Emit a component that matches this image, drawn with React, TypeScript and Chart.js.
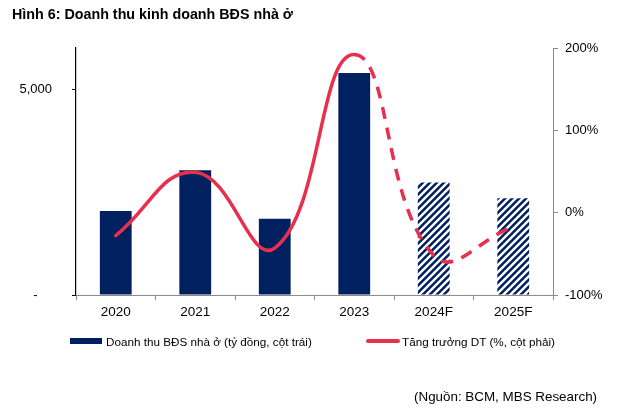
import React, { useEffect, useRef } from "react";
import { Chart, registerables } from "chart.js";

Chart.register(...registerables);

const categories = ["2020", "2021", "2022", "2023", "2024F", "2025F"];
const revenue = [2040, 3030, 1850, 5390, 2735, 2350];
const growth = [-28, 49, -43, 192, -52, -17];
const forecastFrom = 4;
const leftTicks = [0, 5000];
const rightTicks = [-100, 0, 100, 200];

const NAVY = "#002060";
const RED = "#E8304E";
const FONT = "'Liberation Sans', Arial, sans-serif";

function makeHatch(): CanvasPattern | string {
  const size = 7;
  const c = document.createElement("canvas");
  c.width = size;
  c.height = size;
  const g = c.getContext("2d");
  if (!g) return NAVY;
  g.fillStyle = NAVY;
  g.fillRect(0, 0, size, size);
  g.strokeStyle = "#ffffff";
  g.lineWidth = 2.4;
  g.beginPath();
  g.moveTo(-1, size + 1);
  g.lineTo(size + 1, -1);
  g.moveTo(-1, 1);
  g.lineTo(1, -1);
  g.moveTo(size - 1, size + 1);
  g.lineTo(size + 1, size - 1);
  g.stroke();
  const p = g.createPattern(c, "repeat");
  return p || NAVY;
}

export default function App() {
  const ref = useRef<HTMLCanvasElement | null>(null);

  useEffect(() => {
    if (!ref.current) return;
    const hatch = makeHatch();
    const chart = new Chart(ref.current, {
      type: "bar",
      data: {
        labels: categories,
        datasets: [
          {
            type: "bar",
            label: "Doanh thu BĐS nhà ở (tỷ đồng, cột trái)",
            data: revenue,
            backgroundColor: (ctx: any) => (ctx.dataIndex >= forecastFrom ? hatch : NAVY),
            borderWidth: 0,
            yAxisID: "y",
            barPercentage: 0.4,
            categoryPercentage: 1,
            order: 2,
          },
          {
            type: "line",
            label: "Tăng trưởng DT (%, cột phải)",
            data: growth,
            borderColor: RED,
            backgroundColor: RED,
            borderWidth: 3.5,
            borderCapStyle: "round",
            pointRadius: 0,
            tension: 0.45,
            yAxisID: "y1",
            order: 1,
            segment: {
              borderDash: (ctx: any) => (ctx.p0DataIndex >= 3 ? [12, 9] : undefined),
              borderCapStyle: (ctx: any) => (ctx.p0DataIndex >= 3 ? "butt" : "round"),
            },
          } as any,
        ],
      },
      options: {
        animation: false,
        responsive: false,
        maintainAspectRatio: false,
        layout: { padding: { top: 48, left: 0, right: 0, bottom: 90 } },
        plugins: {
          legend: { display: false },
          tooltip: { enabled: false },
          title: { display: false },
        },
        scales: {
          x: {
            offset: true,
            grid: {
              display: true,
              drawOnChartArea: false,
              drawTicks: true,
              tickLength: 5,
              color: "#8c8c8c",
              offset: true,
            },
            border: { display: true, color: "#8c8c8c", width: 1 },
            ticks: { color: "#000", font: { family: FONT, size: 13.5 }, padding: 4 },
            afterFit: (s: any) => {
              s.height = 30;
            },
          },
          y: {
            position: "left",
            min: 0,
            max: 6000,
            afterBuildTicks: (s: any) => {
              s.ticks = leftTicks.map((v) => ({ value: v }));
            },
            grid: {
              display: true,
              drawOnChartArea: false,
              drawTicks: true,
              tickLength: 4,
              color: "#000",
            },
            border: { display: true, color: "#000", width: 1.2 },
            ticks: {
              color: "#000",
              font: { family: FONT, size: 13 },
              padding: 20,
              callback: (v: any) => (Number(v) === 0 ? "-    " : Number(v).toLocaleString("en-US")),
            },
            afterFit: (s: any) => {
              s.width = 76;
            },
          },
          y1: {
            position: "right",
            min: -100,
            max: 200,
            afterBuildTicks: (s: any) => {
              s.ticks = rightTicks.map((v) => ({ value: v }));
            },
            grid: {
              display: true,
              drawOnChartArea: false,
              drawTicks: true,
              tickLength: 5,
              color: "#8c8c8c",
            },
            border: { display: true, color: "#8c8c8c", width: 1 },
            ticks: {
              color: "#000",
              font: { family: FONT, size: 13 },
              padding: 7,
              callback: (v: any) => v + "%",
            },
            afterFit: (s: any) => {
              s.width = 87;
            },
          },
        },
      } as any,
    });
    return () => chart.destroy();
  }, []);

  return (
    <div
      style={{
        position: "fixed",
        left: 0,
        top: 0,
        width: 640,
        height: 415,
        background: "#fff",
        fontFamily: FONT,
        color: "#000",
      }}
    >
      <canvas ref={ref} width={640} height={415} style={{ position: "absolute", left: 0, top: 0 }} />
      <div
        style={{
          position: "absolute",
          left: 12,
          top: 6,
          fontWeight: "bold",
          fontSize: 14.3,
          whiteSpace: "nowrap",
        }}
      >
        Hình 6: Doanh thu kinh doanh BĐS nhà ở
      </div>
      <div
        style={{
          position: "absolute",
          left: 70,
          top: 333,
          height: 16,
          display: "flex",
          alignItems: "center",
          fontSize: 11.7,
          whiteSpace: "nowrap",
        }}
      >
        <span style={{ display: "inline-block", width: 32, height: 6, background: NAVY, marginRight: 4 }} />
        <span>Doanh thu BĐS nhà ở (tỷ đồng, cột trái)</span>
      </div>
      <div
        style={{
          position: "absolute",
          left: 366,
          top: 333,
          height: 16,
          display: "flex",
          alignItems: "center",
          fontSize: 11.7,
          whiteSpace: "nowrap",
        }}
      >
        <span
          style={{ display: "inline-block", width: 34, height: 4, background: RED, borderRadius: 2, marginRight: 2 }}
        />
        <span>Tăng trưởng DT (%, cột phải)</span>
      </div>
      <div
        style={{
          position: "absolute",
          left: 414,
          top: 389,
          fontSize: 13.4,
          whiteSpace: "nowrap",
        }}
      >
        (Nguồn: BCM, MBS Research)
      </div>
    </div>
  );
}
